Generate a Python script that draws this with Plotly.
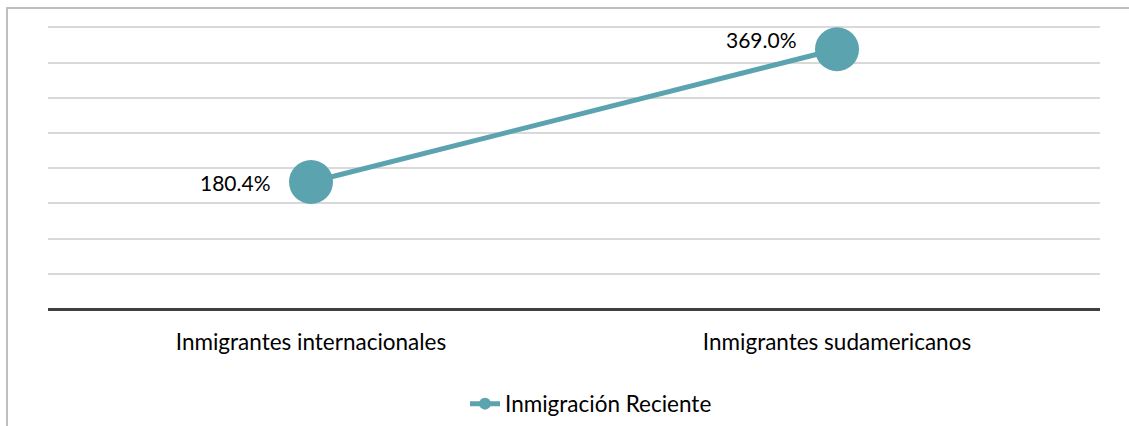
import plotly.graph_objects as go

categories = ["Inmigrantes internacionales", "Inmigrantes sudamericanos"]
values = [180.4, 369.0]
labels = ["180.4%", "369.0%"]
series_name = "Inmigración Reciente"

color = "#5BA3AF"
font_family = "Lato, Open Sans, DejaVu Sans, sans-serif"
fs = 22.5

fig = go.Figure()
fig.add_trace(go.Scatter(
    x=categories, y=values, name=series_name,
    mode="lines+markers",
    line=dict(color=color, width=5),
    marker=dict(color=color, size=44),
    showlegend=True,
))

for c, v, t in zip(categories, values, labels):
    fig.add_annotation(x=c, y=v, text=t, showarrow=False,
                       xanchor="right", yanchor="middle", xshift=-38,
                       yshift=(10 if v > 300 else 0),
                       font=dict(family=font_family, size=21, color="#000000"))

W, H = 1129, 426
ml, mr, mt, mb = 48, 29, 26, 117
pw, ph = W - ml - mr, H - mt - mb

# outer chart-area border
fig.add_shape(type="rect", xref="paper", yref="paper",
              x0=(7 - ml) / pw, x1=(W + 20 - ml) / pw,
              y0=-(H + 20 - mt - ph) / ph, y1=(ph + mt - 8) / ph,
              line=dict(color="#BFBFBF", width=2), layer="below")

fig.update_layout(
    width=W, height=H,
    margin=dict(l=ml, r=mr, t=mt, b=mb, autoexpand=False),
    paper_bgcolor="white", plot_bgcolor="white",
    font=dict(family=font_family, size=fs, color="#000000"),
    xaxis=dict(type="category", range=[-0.5, 1.5], showgrid=False,
               showline=False, zeroline=False, ticks="", automargin=False,
               tickfont=dict(size=fs), ticklabelstandoff=17),
    yaxis=dict(range=[0, 402], dtick=50, showgrid=True, gridcolor="#D9D9D9",
               gridwidth=1.5, showticklabels=False, zeroline=True,
               zerolinecolor="#404040", zerolinewidth=3, showline=False,
               automargin=False),
    legend=dict(orientation="h", xref="container", x=591 / W, xanchor="center",
                yref="container", y=(H - 404) / H, yanchor="middle",
                itemsizing="constant", font=dict(size=fs)),
)

fig.write_html("out.html")
